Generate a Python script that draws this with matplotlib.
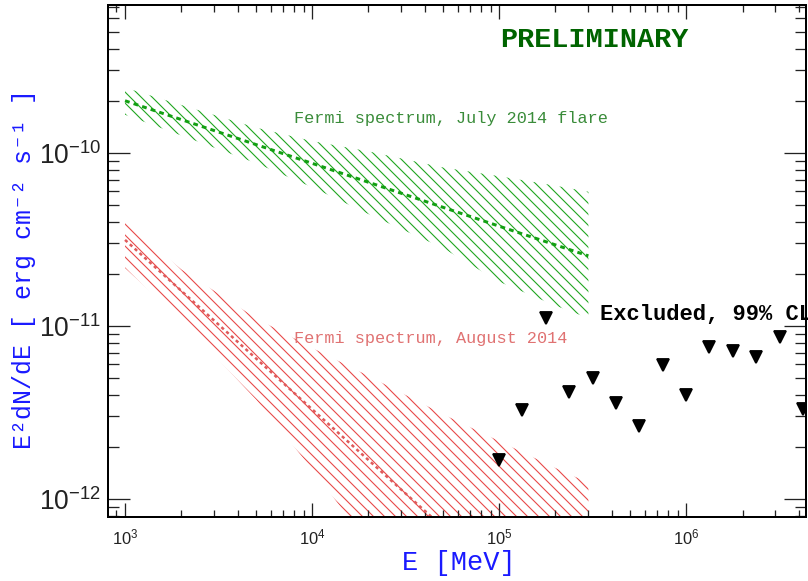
import numpy as np
import matplotlib
matplotlib.use("Agg")
import matplotlib.pyplot as plt

DPI = 132


def pt(px):
    # pixel size -> points at this dpi
    return px * 72.0 / DPI


plt.rcParams['font.family'] = 'Liberation Sans'
plt.rcParams['mathtext.fontset'] = 'custom'
plt.rcParams['mathtext.rm'] = 'Liberation Sans'
plt.rcParams['mathtext.it'] = 'Liberation Sans'
plt.rcParams['hatch.linewidth'] = pt(1.1)

# Fermi butterfly, July 2014 flare
E_band = [1e3, 2e3, 5e3, 1e4, 2e4, 5e4, 1e5, 2e5, 3e5]
july_hi = [2.38e-10, 1.89e-10, 1.40e-10, 1.17e-10, 1.02e-10, 8.24e-11, 7.33e-11, 6.46e-11, 5.96e-11]
july_lo = [1.66e-10, 1.26e-10, 8.73e-11, 6.33e-11, 4.43e-11, 2.82e-11, 1.80e-11, 1.31e-11, 1.11e-11]
E_july = [1e3, 1e4, 1e5, 3e5]
july_fit = [2.0e-10, 8.7e-11, 3.77e-11, 2.54e-11]

# Fermi butterfly, August 2014
aug_hi = [3.99e-11, 2.12e-11, 1.11e-11, 7.46e-12, 5.14e-12, 3.09e-12, 2.16e-12, 1.51e-12, 1.24e-12]
aug_lo = [2.16e-11, 1.08e-11, 3.77e-12, 1.49e-12, 5.5e-13, 1.6e-13, 6e-14, 2.3e-14, 1.3e-14]
E_aug = [1e3, 1e4, 1e5, 3e5]
aug_fit = [3.14e-11, 3.3e-12, 3.5e-13, 1.2e-13]

# 99% CL upper limits
E_ul = [1.0e5, 1.33e5, 1.78e5, 2.37e5, 3.16e5, 4.22e5, 5.62e5, 7.5e5,
        1.0e6, 1.33e6, 1.78e6, 2.37e6, 3.16e6, 4.22e6]
F_ul = [1.68e-12, 3.27e-12, 1.11e-11, 4.15e-12, 5.0e-12, 3.59e-12, 2.64e-12, 5.96e-12,
        3.99e-12, 7.57e-12, 7.17e-12, 6.62e-12, 8.63e-12, 3.31e-12]

fig = plt.figure(figsize=(808.2 / DPI, 581.2 / DPI), dpi=DPI)
ax = fig.add_axes([108 / 808, 64 / 581, 698 / 808, 512 / 581])

hatch = '\\' * 4
ax.fill_between(E_band, july_lo, july_hi, facecolor='none', edgecolor='#1fa51f',
                hatch=hatch, linewidth=0)
ax.fill_between(E_band, aug_lo, aug_hi, facecolor='none', edgecolor='#e84848',
                hatch=hatch, linewidth=0)
ax.plot(E_july, july_fit, color='#12a012', lw=pt(3), ls=(0, (1.6, 1.4)))
ax.plot(E_aug, aug_fit, color='#df5a5a', lw=pt(2.5), ls=(0, (1.3, 1.3)))

ax.plot(E_ul, F_ul, 'v', color='black', ms=pt(11.5), ls='none')

ax.set_xscale('log')
ax.set_yscale('log')
ax.set_xlim(811, 4.38e6)
ax.set_ylim(7.87e-13, 7.17e-10)

for s in ax.spines.values():
    s.set_linewidth(pt(2))
ax.tick_params(which='both', direction='in', top=True, right=True, color='#222222', width=pt(1.3))
ax.tick_params(axis='x', which='major', length=pt(14), labelsize=pt(16.5), pad=pt(10))
ax.tick_params(axis='x', which='minor', length=pt(7))
ax.tick_params(axis='y', which='major', length=pt(22), labelsize=pt(26.5), pad=pt(7))
ax.tick_params(axis='y', which='minor', length=pt(11))
for lab in ax.get_xticklabels() + ax.get_yticklabels():
    lab.set_color('#222222')

mono = ['Liberation Mono', 'DejaVu Sans Mono']
ax.text(3.22e5, 4.5e-10, 'PRELIMINARY', color='#006400', fontsize=pt(28.5),
        fontweight='bold', family=mono, ha='center', va='center')
ax.text(8.0e3, 1.59e-10, 'Fermi spectrum, July 2014 flare', color='#3a8c3a',
        fontsize=pt(16.9), family=mono, ha='left', va='center')
ax.text(8.0e3, 8.53e-12, 'Fermi spectrum, August 2014', color='#e07272',
        fontsize=pt(16.9), family=mono, ha='left', va='center')
ax.text(3.47e5, 1.16e-11, 'Excluded, 99% CL', color='black', fontsize=pt(22.2),
        fontweight='bold', family=mono, ha='left', va='center', clip_on=False)

fig.text(459 / 808, 1 - 563 / 581, 'E [MeV]', color='#1a1aff', fontsize=pt(27),
         family=mono, ha='center', va='center')
fig.text(24 / 808, 1 - 269 / 581, 'E²dN/dE [ erg cm⁻² s⁻¹ ]', color='#1a1aff',
         fontsize=pt(25), family=mono, rotation=90, ha='center', va='center')

fig.savefig('out.png', dpi=DPI)
